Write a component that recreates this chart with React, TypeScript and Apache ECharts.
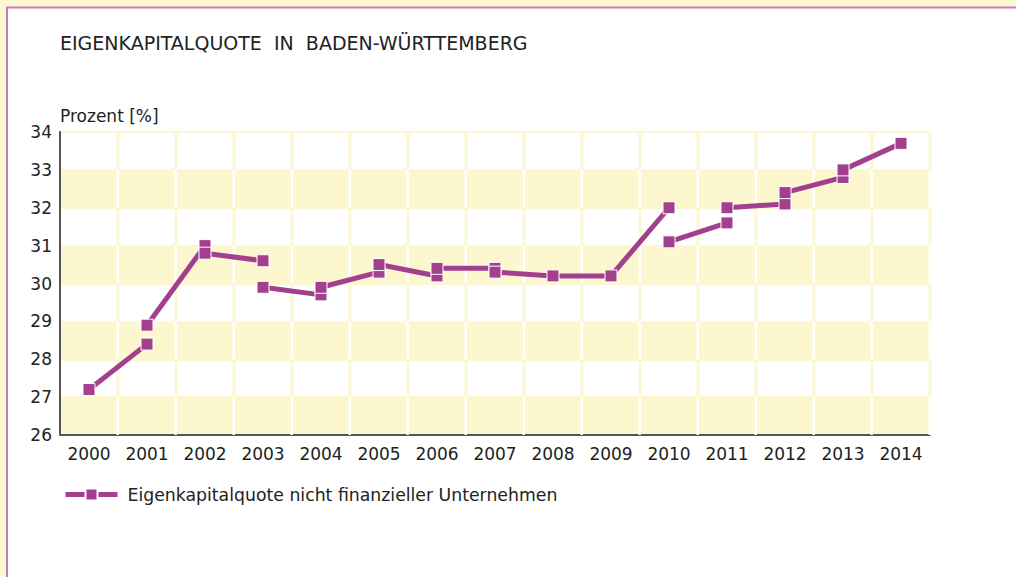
import React, { useEffect, useRef } from "react";
import * as echarts from "echarts";

const years = ["2000", "2001", "2002", "2003", "2004", "2005", "2006", "2007", "2008", "2009", "2010", "2011", "2012", "2013", "2014"];
const yTicks = [26, 27, 28, 29, 30, 31, 32, 33, 34];

// Each segment: pairs [year, value]
const seg1: [string, number][] = [["2000", 27.2], ["2001", 28.4]];
const seg2: [string, number][] = [["2001", 28.9], ["2002", 31.0]];
const seg3: [string, number][] = [["2002", 30.8], ["2003", 30.6]];
const seg4: [string, number][] = [["2003", 29.9], ["2004", 29.7]];
const seg5: [string, number][] = [["2004", 29.9], ["2005", 30.3]];
const seg6: [string, number][] = [["2005", 30.5], ["2006", 30.2]];
const seg7: [string, number][] = [["2006", 30.4], ["2007", 30.4]];
const seg8: [string, number][] = [["2007", 30.3], ["2008", 30.2], ["2009", 30.2], ["2010", 32.0]];
const seg9: [string, number][] = [["2010", 31.1], ["2011", 31.6]];
const seg10: [string, number][] = [["2011", 32.0], ["2012", 32.1]];
const seg11: [string, number][] = [["2012", 32.4], ["2013", 32.8]];
const seg12: [string, number][] = [["2013", 33.0], ["2014", 33.7]];
const segments = [seg1, seg2, seg3, seg4, seg5, seg6, seg7, seg8, seg9, seg10, seg11, seg12];

const SERIES_NAME = "Eigenkapitalquote nicht finanzieller Unternehmen";
const PURPLE = "#a23f8f";
const YELLOW = "#fdf7d0";
const FONT = "DejaVu Sans";

export default function App() {
  const ref = useRef<HTMLDivElement>(null);
  useEffect(() => {
    document.body.style.margin = "0";
    const chart = echarts.init(ref.current!, undefined, { renderer: "svg" });

    // one cell per (category, band) used to draw the vertical separators
    const cellData: (string | number)[][] = [];
    for (let i = 0; i < years.length; i++) {
      for (let b = 0; b < yTicks.length - 1; b++) {
        cellData.push([years[i], yTicks[b], b % 2]);
      }
    }

    const lineSeries = segments.map((seg) => ({
      type: "line",
      name: SERIES_NAME,
      data: seg,
      symbol: "rect",
      symbolSize: 12,
      lineStyle: { color: PURPLE, width: 5 },
      itemStyle: { color: PURPLE, borderColor: "#ffffff", borderWidth: 1 },
      z: 3,
    }));

    chart.setOption({
      animation: false,
      backgroundColor: YELLOW,
      textStyle: { fontFamily: FONT },
      graphic: [
        {
          type: "rect",
          z: -10,
          shape: { x: 7, y: 7.5, width: 1020, height: 600 },
          style: { fill: "#ffffff", stroke: "#c47cb7", lineWidth: 2 },
        },
        {
          type: "text",
          left: 60,
          top: 33,
          style: { text: "EIGENKAPITALQUOTE  IN  BADEN-WÜRTTEMBERG", fontSize: 19, fill: "#222", fontFamily: FONT },
        },
        {
          type: "text",
          left: 60,
          top: 107,
          style: { text: "Prozent [%]", fontSize: 17, fill: "#222", fontFamily: FONT },
        },
      ],
      grid: { left: 60, right: 86, top: 132, bottom: 142, containLabel: false },
      legend: {
        data: [SERIES_NAME],
        left: 58,
        top: 481,
        itemWidth: 52,
        itemHeight: 15,
        lineStyle: { width: 5 },
        textStyle: { fontSize: 17.3, color: "#222", fontFamily: FONT, padding: [0, 0, 0, 5] },
      },
      xAxis: {
        type: "category",
        data: years,
        boundaryGap: true,
        axisLine: { lineStyle: { color: "#555", width: 2 } },
        axisTick: { show: false },
        axisLabel: { fontSize: 17, color: "#222", margin: 10, fontFamily: FONT },
        splitLine: { show: false },
      },
      yAxis: {
        type: "value",
        min: 26,
        max: 34,
        interval: 1,
        axisLine: { show: true, lineStyle: { color: "#555", width: 2 } },
        axisTick: { show: false },
        axisLabel: { fontSize: 17, color: "#222", margin: 8, fontFamily: FONT },
        splitLine: { show: true, lineStyle: { color: YELLOW, width: 2 } },
        splitArea: { show: true, areaStyle: { color: [YELLOW, "#ffffff"] } },
      },
      series: [
        {
          type: "custom",
          name: "grid-sep",
          data: cellData,
          encode: { x: 0, y: 1 },
          z: 1,
          silent: true,
          clip: false,
          renderItem: (params: any, api: any) => {
            const lo = api.value(1);
            const odd = api.value(2);
            const p0 = api.coord([api.value(0), lo]);
            const p1 = api.coord([api.value(0), lo + 1]);
            const w = api.size([1, 0])[0];
            const xr = p0[0] + w / 2;
            return {
              type: "rect",
              shape: { x: xr - 1.5, y: p1[1], width: odd ? 3 : 2.5, height: p0[1] - p1[1] },
              style: { fill: odd ? YELLOW : "#ffffff" },
            };
          },
        },
        ...lineSeries,
      ],
    });
    return () => chart.dispose();
  }, []);
  return <div ref={ref} style={{ width: 1016, height: 577 }} />;
}
